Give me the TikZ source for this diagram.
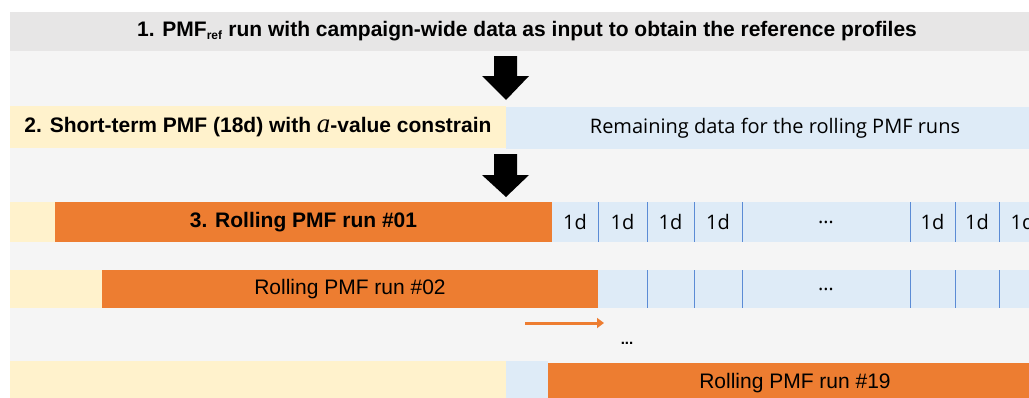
\documentclass[tikz,border=0pt]{standalone}
\usepackage{fontspec}
\setmainfont{Liberation Sans}
\newfontfamily\seg{Open Sans}
\newfontfamily\tms{Liberation Serif}
\usetikzlibrary{arrows.meta}
\definecolor{bandgray}{HTML}{E7E6E6}
\definecolor{bggray}{HTML}{F5F5F5}
\definecolor{ylw}{HTML}{FFF2CC}
\definecolor{lblue}{HTML}{DEEBF7}
\definecolor{org}{HTML}{ED7D31}
\definecolor{divblue}{HTML}{5B8BD5}
\begin{document}
\begin{tikzpicture}[x=1pt,y=-1pt,
  bar/.style={anchor=north west, inner sep=0pt, outer sep=0pt, draw=none},
  lbl/.style={font=\fontsize{21}{24}\selectfont},
  blbl/.style={font=\fontsize{21}{24}\selectfont\bfseries},
  seglbl/.style={font=\fontsize{20}{23}\selectfont\seg},
  divider/.style={draw=divblue, line width=0.9pt},
  bigarrow/.style={fill=black},
]
\useasboundingbox (0,0) rectangle (1029,397);
\clip (0,0) rectangle (1029,397);
\fill[white] (0,0) rectangle (1029,397);
\fill[bggray] (10,12) rectangle (1029,397);

% Row 1
\node[bar, fill=bandgray, minimum width=1034pt, minimum height=39pt, blbl] (r1) at (10,12)
  {1. PMF\textsubscript{\fontsize{12}{12}\selectfont ref} run with campaign-wide data as input to obtain the reference profiles};

% Row 2
\node[bar, fill=ylw, minimum width=496pt, minimum height=42pt, blbl] (r2a) at (10,106)
  {2. Short-term PMF (18d) with {\tms\mdseries\itshape\fontsize{27}{24}\selectfont a}-value constrain};
\node[bar, fill=lblue, minimum width=538pt, minimum height=42pt, seglbl, yshift=-1pt] (r2b) at (506,106)
  {Remaining data for the rolling PMF runs};

% Big arrows
\fill[bigarrow] (494,56) -- (517,56) -- (517,76) -- (529,76) -- (506,100) -- (482,76) -- (494,76) -- cycle;
\fill[bigarrow] (494,154) -- (517,154) -- (517,175) -- (529,175) -- (506,197) -- (482,175) -- (494,175) -- cycle;

% Row 3
\node[bar, fill=ylw, minimum width=45pt, minimum height=40pt] (r3a) at (10,202) {};
\node[bar, fill=org, minimum width=497pt, minimum height=40pt, blbl] (r3b) at (55,202) {3. Rolling PMF run \#01};
\foreach \i/\xa/\xb/\t in {1/552/598/1d, 2/598/647/1d, 3/647/694/1d, 4/694/742/1d, 5/742/910/\dots, 6/910/955/1d, 7/955/999/1d, 8/999/1046/1d} {
  \node[bar, fill=lblue, minimum width={(\xb-\xa)*1pt}, minimum height=40pt, seglbl] (c3\i) at (\xa,202) {\t};
}
\foreach \i in {2,...,8} { \draw[divider] (c3\i.north west) -- (c3\i.south west); }

% Row 4
\node[bar, fill=ylw, minimum width=92pt, minimum height=38pt] (r4a) at (10,270) {};
\node[bar, fill=org, minimum width=496pt, minimum height=38pt, lbl] (r4b) at (102,270) {Rolling PMF run \#02};
\foreach \i/\xa/\xb/\t in {2/598/647/{}, 3/647/694/{}, 4/694/742/{}, 5/742/910/\dots, 6/910/955/{}, 7/955/999/{}, 8/999/1046/{}} {
  \node[bar, fill=lblue, minimum width={(\xb-\xa)*1pt}, minimum height=38pt, seglbl] (c4\i) at (\xa,270) {\t};
}
\foreach \i in {3,...,8} { \draw[divider] (c4\i.north west) -- (c4\i.south west); }

% Orange shift arrow and dots
\coordinate (sa) at (525,323);
\coordinate (sb) at (604,323);
\draw[org, line width=3pt, -{Triangle[length=7pt,width=10pt]}] (sa) -- (sb);
\node[font=\fontsize{15}{15}\selectfont\bfseries] (dots) at (627,343) {...};

% Row 5
\node[bar, fill=ylw, minimum width=496pt, minimum height=42pt] (r5a) at (10,361) {};
\node[bar, fill=lblue, minimum width=42pt, minimum height=42pt] (r5b) at (506,361) {};
\node[bar, fill=org, minimum width=494pt, minimum height=42pt, lbl, yshift=-1.5pt] (r5c) at (548,361) {Rolling PMF run \#19};
\end{tikzpicture}
\end{document}
